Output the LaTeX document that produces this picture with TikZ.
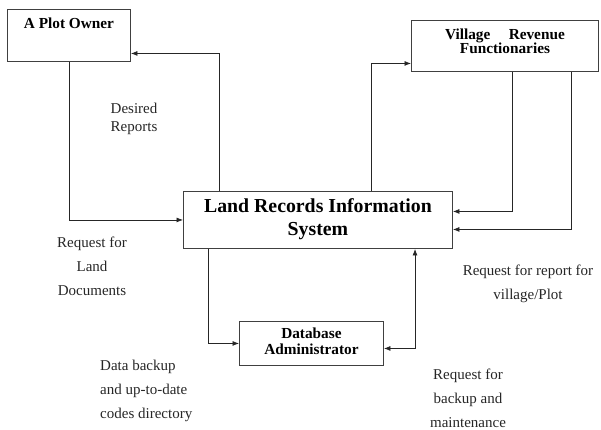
\documentclass[tikz,border=0pt]{standalone}
\usepackage{fontspec}
\setmainfont{Liberation Serif}
\usetikzlibrary{arrows.meta}
\begin{document}
\begin{tikzpicture}[x=1pt,y=-1pt,
  box/.style={draw=black!75,line width=0.9pt,anchor=north west,inner sep=0pt,align=center},
  ttl/.style={font=\fontsize{15.3}{15}\selectfont\bfseries},
  lbl/.style={font=\fontsize{15}{24}\selectfont,align=center,inner sep=0pt,text=black!85},
  conn/.style={draw=black!85,line width=0.8pt},
  arr/.style={conn,-{Latex[length=6.5pt,width=5pt]}},
  arrb/.style={conn,{Latex[length=6.5pt,width=5pt]}-{Latex[length=6.5pt,width=5pt]}}]
\useasboundingbox (0,0) rectangle (601,429);
% boxes
\node[box,minimum width=123pt,minimum height=52pt,
  label={[ttl,anchor=north,yshift=-5pt]north:A Plot Owner}] (po) at (7,9) {};
\node[box,minimum width=187pt,minimum height=51pt,ttl,text depth=10pt] (vrf) at (411,20)
  {Village\hspace{1.2em}Revenue\\[-0.5pt]Functionaries};
\node[box,minimum width=269pt,minimum height=57pt,font=\fontsize{19.8}{23}\selectfont\bfseries,text depth=6pt] (lris) at (183,191)
  {Land Records Information\\System};
\node[box,minimum width=144pt,minimum height=44pt,ttl,text depth=5pt] (db) at (239,321)
  {Database\\[0.5pt]Administrator};
% connectors
\draw[arr] ([xshift=36pt]lris.north west) |- ([yshift=-18pt]po.east);
\draw[arr] (po.south) |- (lris.west);
\draw[arr] ([xshift=188pt]lris.north west) |- ([yshift=-17.5pt]vrf.west);
\draw[arr] ([xshift=101pt]vrf.south west) |- ([yshift=8.5pt]lris.east);
\draw[arr] ([xshift=160pt]vrf.south west) |- ([yshift=-9.5pt]lris.east);
\draw[arr] ([xshift=25pt]lris.south west) |- (db.west);
\draw[arrb] ([yshift=-5pt]db.east) -| ([xshift=232pt]lris.south west);
% labels
\node[lbl,font=\fontsize{15}{18}\selectfont] (l1) at (134,119) {Desired\\Reports};
\node[lbl] (l2) at (92,266) {Request for\\Land\\Documents};
\node[lbl,align=left,anchor=west] (l3) at (100,391) {Data backup\\and up-to-date\\codes directory};
\node[lbl] (l4) at (528,284) {Request for report for\\village/Plot};
\node[lbl] (l5) at (468,398) {Request for\\backup and\\maintenance};
\end{tikzpicture}
\end{document}
